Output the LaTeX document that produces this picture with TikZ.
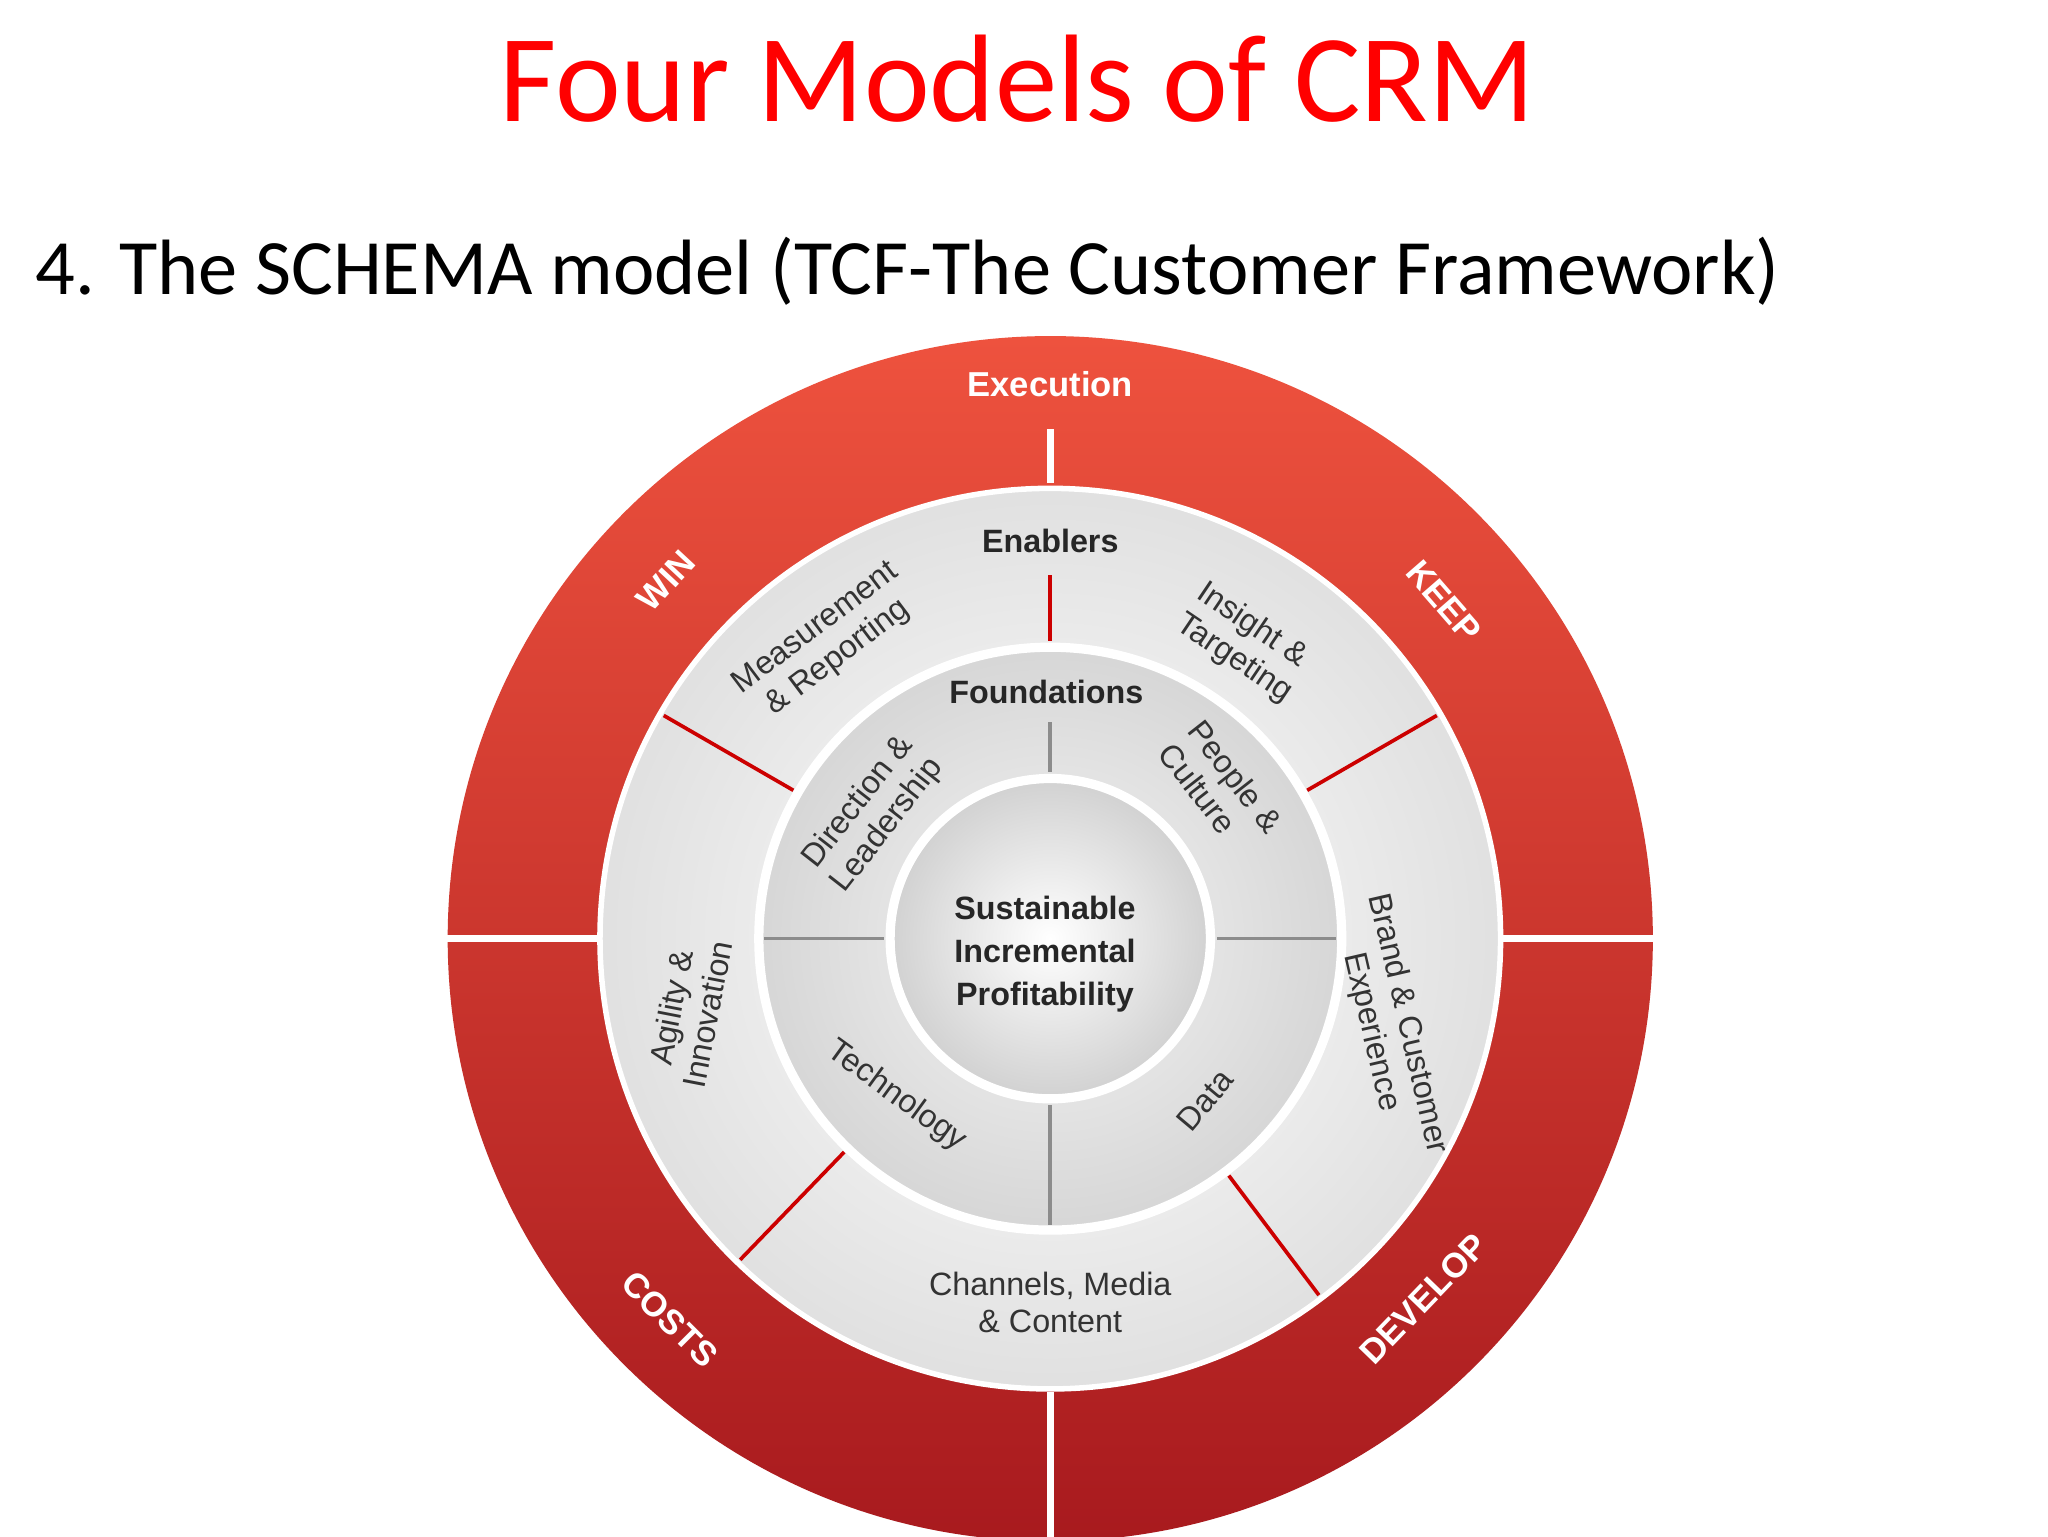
\documentclass[tikz,border=0pt]{standalone}
\usepackage{fontspec}
\setmainfont{Carlito}
\newfontfamily\arial{Liberation Sans}
\usetikzlibrary{calc}
\definecolor{redlight}{RGB}{238,82,62}
\definecolor{reddark}{RGB}{168,26,30}
\begin{document}
\begin{tikzpicture}[
  ring/.style={font=\arial\bfseries\fontsize{7.5}{8}\selectfont, text=white},
  lab/.style={font=\arial\fontsize{7}{8}\selectfont, text=black!80, align=center},
  blab/.style={font=\arial\bfseries\fontsize{7}{8}\selectfont, text=black!85, align=center},
  rline/.style={draw=red!80!black, line width=0.8pt},
  gline/.style={draw=black!45, line width=0.8pt},
  wline/.style={draw=white, line width=1.5pt}]
\useasboundingbox (0,0) rectangle (15.6,11.7);
\fill[white] (0,0) rectangle (15.6,11.7);
\node (title) at (7.75,11.1) {\fontsize{27}{30}\selectfont\color{red}Four Models of CRM};
\node[anchor=west] (sub) at (0.15,9.63) {\fontsize{17}{20}\selectfont 4. The SCHEMA model (TCF-The Customer Framework)};
\coordinate (c) at (8.0,4.55);
% red ring
\shade[shading angle=45, top color=redlight, bottom color=reddark] (c) circle (4.59);
\shade[inner color=white, outer color=black!12] (c) circle (3.43);
\draw[white, line width=1.2pt] (c) circle (3.43);
\shade[inner color=black!4, outer color=black!16] (c) circle (2.22);
\draw[white, line width=2pt] (c) circle (2.22);
\shade[inner color=white, outer color=black!18] (c) circle (1.22);
\draw[white, line width=2pt] (c) circle (1.22);
% white ring dividers
\draw[wline] ($(c)+(180:3.45)$) -- ($(c)+(180:4.62)$);
\draw[wline] ($(c)+(0:3.45)$) -- ($(c)+(0:4.62)$);
\draw[wline] ($(c)+(-90:3.45)$) -- ($(c)+(-90:4.62)$);
\draw[wline] ($(c)+(90:3.47)$) -- ($(c)+(90:3.88)$);
% enabler dividers
\draw[rline] ($(c)+(90:2.27)$) -- ($(c)+(90:2.77)$);
\draw[rline] ($(c)+(150:2.26)$) -- ($(c)+(150:3.40)$);
\draw[rline] ($(c)+(30:2.26)$) -- ($(c)+(30:3.40)$);
\draw[rline] ($(c)+(226:2.26)$) -- ($(c)+(226:3.40)$);
\draw[rline] ($(c)+(-53:2.26)$) -- ($(c)+(-53:3.40)$);
% foundation dividers
\draw[gline] ($(c)+(90:1.27)$) -- ($(c)+(90:1.65)$);
\draw[gline] ($(c)+(180:1.27)$) -- ($(c)+(180:2.18)$);
\draw[gline] ($(c)+(0:1.27)$) -- ($(c)+(0:2.18)$);
\draw[gline] ($(c)+(-90:1.27)$) -- ($(c)+(-90:2.18)$);
% ring labels
\node[ring] (exe) at ($(c)+(90:4.22)$) {Execution};
\node[ring, rotate=47] (win) at ($(c)+(137:4.0)$) {WIN};
\node[ring, rotate=-49] (keep) at ($(c)+(40.6:3.95)$) {KEEP};
\node[ring, rotate=-45] (costs) at ($(c)+(225:4.1)$) {COSTS};
\node[ring, rotate=46] (dev) at ($(c)+(-44:3.95)$) {DEVELOP};
% enablers
\node[blab] (en) at (8.0,7.58) {Enablers};
\node[lab, rotate=37] (mr) at (6.3,6.8) {Measurement\\\& Reporting};
\node[lab, rotate=-34, align=left] (it) at (9.48,6.8) {Insight \&\\Targeting};
\node[lab, rotate=-77] (bce) at (10.58,3.87) {Brand \& Customer\\Experience};
\node[lab, rotate=79] (ai) at (5.25,4.0) {Agility \&\\Innovation};
\node[lab] (cmc) at (8.0,1.78) {Channels, Media\\\& Content};
% foundations
\node[blab] (fo) at (7.97,6.43) {Foundations};
\node[lab, rotate=52] (dl) at (6.65,5.5) {Direction \&\\Leadership};
\node[lab, rotate=-52, align=left] (pc) at (9.3,5.7) {People \&\\Culture};
\node[lab, rotate=-36] (tech) at (6.83,3.35) {Technology};
\node[lab, rotate=50] (data) at (9.18,3.32) {Data};
% center
\node[blab, font=\arial\bfseries\fontsize{7}{9.3}\selectfont] (sip) at (7.96,4.43) {Sustainable\\Incremental\\Profitability};
\end{tikzpicture}
\end{document}
